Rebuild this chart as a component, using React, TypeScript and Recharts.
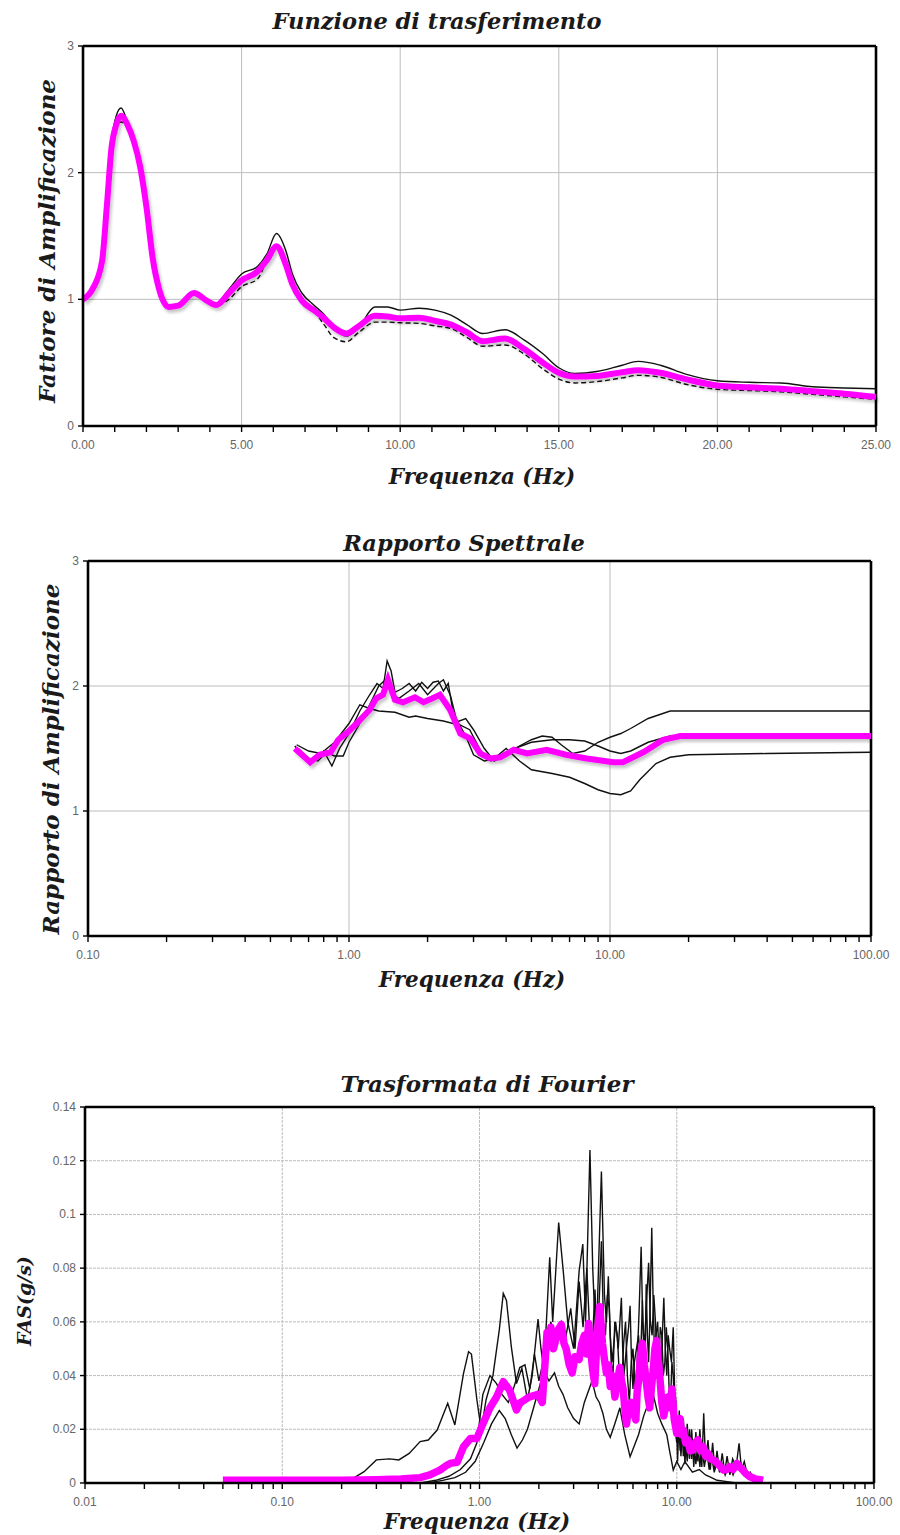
import React from 'react';
import { LineChart, Line, XAxis, YAxis, CartesianGrid, ReferenceLine } from 'recharts';

// --- Funzione di trasferimento (linear frequency axis) ---
const tfFreq = [0, 0.3, 0.6, 0.75, 0.9, 1.05, 1.2, 1.4, 1.6, 1.8, 2.0, 2.2, 2.4, 2.7, 3.0, 3.5, 3.9, 4.2, 4.6, 5.0, 5.5, 5.8, 6.1, 6.4, 6.6, 6.9, 7.3, 7.6, 7.9, 8.3, 8.7, 9.2, 9.6, 10, 10.6, 11.1, 11.6, 12.1, 12.6, 13.3, 13.9, 14.5, 15, 15.5, 16.2, 17, 17.5, 18.2, 19, 20, 21, 22, 23, 24, 25];
const tfUpper = [1.0, 1.08, 1.32, 1.75, 2.25, 2.45, 2.51, 2.4, 2.25, 2.05, 1.73, 1.32, 1.08, 0.95, 0.96, 1.06, 1.0, 0.97, 1.08, 1.2, 1.26, 1.36, 1.52, 1.38, 1.2, 1.05, 0.95, 0.88, 0.78, 0.71, 0.78, 0.94, 0.94, 0.915, 0.93, 0.915, 0.875, 0.8, 0.73, 0.76, 0.68, 0.57, 0.46, 0.415, 0.43, 0.48, 0.51, 0.48, 0.41, 0.357, 0.345, 0.34, 0.31, 0.3, 0.294];
const tfLower = [1.0, 1.08, 1.3, 1.72, 2.18, 2.36, 2.4, 2.36, 2.24, 2.04, 1.72, 1.31, 1.07, 0.93, 0.94, 1.04, 0.98, 0.95, 1.0, 1.1, 1.16, 1.3, 1.4, 1.25, 1.1, 0.97, 0.9, 0.8, 0.7, 0.665, 0.74, 0.82, 0.82, 0.815, 0.81, 0.79, 0.77, 0.7, 0.63, 0.64, 0.57, 0.45, 0.37, 0.34, 0.35, 0.38, 0.4, 0.385, 0.33, 0.29, 0.28, 0.27, 0.25, 0.23, 0.21];
const tfMean = [1.0, 1.08, 1.3, 1.73, 2.2, 2.38, 2.45, 2.38, 2.25, 2.05, 1.73, 1.32, 1.08, 0.94, 0.95, 1.05, 0.99, 0.955, 1.05, 1.15, 1.22, 1.31, 1.42, 1.27, 1.12, 0.99, 0.91, 0.85, 0.78, 0.73, 0.79, 0.87, 0.865, 0.85, 0.855, 0.83, 0.8, 0.74, 0.67, 0.69, 0.61, 0.5, 0.42, 0.39, 0.395, 0.425, 0.44, 0.42, 0.37, 0.32, 0.305, 0.295, 0.275, 0.255, 0.23];
const tfTicksX = [0, 1, 2, 3, 4, 5, 6, 7, 8, 9, 10, 11, 12, 13, 14, 15, 16, 17, 18, 19, 20, 21, 22, 23, 24, 25];
const tfGridX = [5, 10, 15, 20];
const ampTicksY = [0, 1, 2, 3];

// --- Rapporto Spettrale (log frequency axis) ---
const srA = [[0.62, 1.52], [0.66, 1.45], [0.7, 1.4], [0.75, 1.43], [0.8, 1.48], [0.86, 1.36], [0.92, 1.5], [1.0, 1.62], [1.1, 1.8], [1.2, 1.93], [1.28, 2.02], [1.35, 1.98], [1.4, 2.2], [1.45, 2.12], [1.5, 1.95], [1.6, 1.98], [1.7, 2.02], [1.8, 1.96], [1.9, 2.03], [2.0, 1.98], [2.1, 2.03], [2.2, 2.04], [2.3, 1.96], [2.4, 2.02], [2.5, 1.8], [2.6, 1.72], [2.8, 1.6], [3.0, 1.45], [3.3, 1.4], [3.6, 1.42], [4.0, 1.5], [4.5, 1.4], [5, 1.33], [6, 1.3], [7, 1.27], [8, 1.22], [9, 1.17], [10, 1.14], [11, 1.13], [12, 1.16], [13, 1.25], [15, 1.38], [17, 1.43], [20, 1.45], [40, 1.46], [100, 1.47]];
const srB = [[0.63, 1.53], [0.7, 1.48], [0.78, 1.46], [0.88, 1.55], [1.0, 1.7], [1.1, 1.85], [1.2, 1.82], [1.3, 1.8], [1.5, 1.79], [1.7, 1.75], [1.8, 1.76], [2.0, 1.74], [2.3, 1.72], [2.5, 1.7], [2.8, 1.74], [3.0, 1.65], [3.3, 1.5], [3.6, 1.4], [4.0, 1.45], [4.5, 1.52], [5, 1.57], [5.5, 1.6], [6, 1.59], [6.5, 1.53], [7.2, 1.46], [8, 1.48], [9, 1.55], [10, 1.59], [11, 1.62], [12, 1.66], [14, 1.74], [17, 1.8], [20, 1.8], [50, 1.8], [100, 1.8]];
const srC = [[0.64, 1.5], [0.7, 1.42], [0.76, 1.4], [0.82, 1.47], [0.88, 1.44], [0.95, 1.44], [1.0, 1.55], [1.1, 1.7], [1.2, 1.85], [1.3, 2.0], [1.38, 2.05], [1.45, 1.95], [1.55, 1.9], [1.7, 1.96], [1.85, 2.02], [2.0, 1.93], [2.2, 2.02], [2.3, 2.05], [2.45, 1.92], [2.6, 1.7], [2.9, 1.65], [3.2, 1.48], [3.5, 1.4], [3.9, 1.44], [4.3, 1.5], [5, 1.55], [6, 1.57], [7, 1.57], [8, 1.56], [9, 1.52], [10, 1.48], [11, 1.46], [12, 1.48], [14, 1.55], [17, 1.6], [20, 1.6], [50, 1.6], [100, 1.6]];
const srMean = [[0.62, 1.5], [0.66, 1.45], [0.71, 1.39], [0.77, 1.45], [0.85, 1.47], [0.91, 1.57], [1.0, 1.64], [1.07, 1.7], [1.2, 1.81], [1.27, 1.9], [1.35, 1.93], [1.41, 2.05], [1.5, 1.89], [1.61, 1.87], [1.79, 1.91], [1.93, 1.87], [2.08, 1.9], [2.23, 1.93], [2.44, 1.81], [2.67, 1.62], [2.92, 1.58], [3.18, 1.46], [3.48, 1.42], [3.8, 1.43], [4.28, 1.49], [4.81, 1.46], [5.72, 1.49], [6.79, 1.45], [8.14, 1.42], [10.3, 1.39], [11.2, 1.39], [13.4, 1.47], [16, 1.57], [18.6, 1.6], [30, 1.6], [60, 1.6], [100, 1.6]];
const srMajorX = [0.1, 1, 10, 100];

// --- Trasformata di Fourier (log frequency axis) ---
const fasA = [[0.05, 0], [0.2, 0], [0.22, 0.001], [0.26, 0.0042], [0.3, 0.0086], [0.35, 0.009], [0.39, 0.0086], [0.44, 0.011], [0.5, 0.0154], [0.55, 0.016], [0.61, 0.0197], [0.69, 0.0297], [0.75, 0.0216], [0.83, 0.0408], [0.88, 0.0489], [0.91, 0.048], [0.97, 0.031], [1.02, 0.0197], [1.08, 0.031], [1.17, 0.04], [1.26, 0.057], [1.32, 0.0706], [1.37, 0.068], [1.45, 0.0507], [1.54, 0.037], [1.64, 0.0427], [1.75, 0.031], [1.85, 0.04], [1.98, 0.061], [2.05, 0.05], [2.12, 0.042], [2.27, 0.084], [2.35, 0.06], [2.52, 0.097], [2.65, 0.08], [2.8, 0.06], [3.0, 0.05], [3.2, 0.079], [3.34, 0.089], [3.45, 0.06], [3.63, 0.124], [3.75, 0.08], [3.9, 0.05], [4.15, 0.116], [4.3, 0.07], [4.4, 0.06], [4.5, 0.077], [4.6, 0.055], [4.7, 0.045], [4.8, 0.052], [4.9, 0.06], [5.05, 0.05], [5.24, 0.069], [5.32, 0.05], [5.4, 0.04], [5.55, 0.05], [5.7, 0.058], [5.8, 0.066], [5.9, 0.045], [6.0, 0.035], [6.1, 0.045], [6.25, 0.05], [6.4, 0.055], [6.55, 0.045], [6.7, 0.068], [6.8, 0.05], [6.9, 0.04], [7.0, 0.074], [7.1, 0.055], [7.2, 0.045], [7.3, 0.06], [7.47, 0.095], [7.58, 0.07], [7.7, 0.05], [7.85, 0.055], [8.0, 0.06], [8.15, 0.045], [8.3, 0.035], [8.45, 0.055], [8.6, 0.069], [8.75, 0.05], [8.9, 0.04], [9.05, 0.055], [9.2, 0.05], [9.4, 0.045], [9.6, 0.058], [9.75, 0.035], [9.9, 0.03], [10.1, 0.008], [10.3, 0.027], [10.5, 0.01], [10.8, 0.024], [11.0, 0.007], [11.3, 0.022], [11.6, 0.009], [11.9, 0.02], [12.2, 0.006], [12.5, 0.019], [12.8, 0.008], [13.1, 0.02], [13.4, 0.006], [13.7, 0.026], [14.0, 0.008], [14.4, 0.016], [14.8, 0.005], [15.2, 0.015], [15.6, 0.005], [16, 0.012], [16.5, 0.004], [17, 0.011], [17.5, 0.004], [18, 0.01], [18.6, 0.003], [19.2, 0.009], [20, 0.006], [20.7, 0.0148], [21.3, 0.005], [22, 0.008], [22.8, 0.003], [23.6, 0.004], [24.5, 0.001], [25, 0.0005]];
const fasB = [[0.05, 0], [0.5, 0], [0.6, 0.001], [0.7, 0.0025], [0.8, 0.005], [0.9, 0.009], [0.97, 0.015], [1.04, 0.033], [1.13, 0.04], [1.22, 0.037], [1.3, 0.033], [1.4, 0.03], [1.5, 0.036], [1.6, 0.043], [1.7, 0.044], [1.8, 0.035], [1.9, 0.048], [2.0, 0.038], [2.1, 0.045], [2.2, 0.05], [2.3, 0.06], [2.45, 0.052], [2.6, 0.06], [2.75, 0.055], [2.9, 0.065], [3.05, 0.05], [3.2, 0.075], [3.35, 0.058], [3.5, 0.08], [3.6, 0.06], [3.7, 0.045], [3.78, 0.06], [3.85, 0.072], [3.92, 0.055], [4.0, 0.06], [4.08, 0.075], [4.15, 0.09], [4.25, 0.06], [4.35, 0.055], [4.45, 0.07], [4.55, 0.065], [4.65, 0.045], [4.75, 0.04], [4.85, 0.06], [5.0, 0.055], [5.1, 0.042], [5.25, 0.035], [5.38, 0.052], [5.5, 0.06], [5.62, 0.04], [5.75, 0.03], [5.88, 0.045], [6.0, 0.05], [6.15, 0.035], [6.3, 0.045], [6.45, 0.065], [6.6, 0.088], [6.72, 0.06], [6.85, 0.05], [7.0, 0.065], [7.2, 0.082], [7.35, 0.06], [7.5, 0.055], [7.65, 0.07], [7.8, 0.06], [7.95, 0.045], [8.1, 0.04], [8.25, 0.058], [8.4, 0.055], [8.55, 0.04], [8.7, 0.045], [8.85, 0.058], [9.0, 0.05], [9.15, 0.035], [9.3, 0.03], [9.45, 0.045], [9.6, 0.04], [9.8, 0.02], [10, 0.015], [10.2, 0.024], [10.4, 0.012], [10.6, 0.022], [10.8, 0.01], [11.0, 0.018], [11.3, 0.008], [11.6, 0.02], [11.9, 0.009], [12.2, 0.016], [12.5, 0.007], [12.8, 0.015], [13.1, 0.006], [13.4, 0.014], [13.8, 0.006], [14.2, 0.012], [14.6, 0.005], [15, 0.01], [15.5, 0.004], [16, 0.009], [16.5, 0.004], [17, 0.007], [17.6, 0.003], [18.5, 0.007], [19.3, 0.003], [20, 0.006], [21, 0.008], [22, 0.003], [23.5, 0.002], [25, 0.0005]];
const fasC = [[0.05, 0], [0.55, 0], [0.65, 0.001], [0.75, 0.002], [0.85, 0.004], [0.95, 0.008], [1.05, 0.015], [1.15, 0.022], [1.26, 0.027], [1.35, 0.024], [1.45, 0.018], [1.55, 0.013], [1.65, 0.016], [1.75, 0.02], [1.88, 0.028], [2.0, 0.035], [2.12, 0.042], [2.25, 0.038], [2.4, 0.041], [2.52, 0.036], [2.65, 0.033], [2.8, 0.028], [3.0, 0.024], [3.2, 0.022], [3.4, 0.03], [3.72, 0.038], [3.9, 0.032], [4.05, 0.03], [4.22, 0.026], [4.4, 0.02], [4.6, 0.017], [4.85, 0.022], [5.15, 0.028], [5.45, 0.018], [5.8, 0.0098], [6.1, 0.014], [6.4, 0.018], [6.8, 0.025], [7.2, 0.03], [7.6, 0.033], [8.0, 0.026], [8.4, 0.022], [8.9, 0.018], [9.2, 0.012], [9.6, 0.0048], [10, 0.008], [10.5, 0.005], [11, 0.008], [12, 0.004], [13, 0.005], [14, 0.003], [15, 0.002], [16, 0.001], [18, 0.0005], [20, 0]];
const fasMean = [[0.05, 0.001], [0.1, 0.001], [0.2, 0.001], [0.3, 0.0012], [0.4, 0.0015], [0.5, 0.002], [0.56, 0.003], [0.63, 0.0048], [0.68, 0.0065], [0.71, 0.0073], [0.77, 0.0077], [0.83, 0.0135], [0.9, 0.0166], [0.97, 0.0166], [1.04, 0.022], [1.13, 0.028], [1.22, 0.032], [1.32, 0.0377], [1.42, 0.0346], [1.54, 0.0272], [1.6, 0.0297], [1.7, 0.031], [1.78, 0.032], [1.98, 0.033], [2.08, 0.03], [2.15, 0.045], [2.2, 0.056], [2.26, 0.052], [2.3, 0.058], [2.37, 0.05], [2.43, 0.053], [2.5, 0.057], [2.6, 0.059], [2.68, 0.052], [2.75, 0.05], [2.85, 0.044], [2.95, 0.041], [3.05, 0.047], [3.2, 0.046], [3.3, 0.052], [3.4, 0.055], [3.5, 0.048], [3.57, 0.0594], [3.65, 0.05], [3.75, 0.042], [3.84, 0.037], [3.95, 0.055], [4.07, 0.0656], [4.14, 0.058], [4.2, 0.052], [4.3, 0.046], [4.4, 0.041], [4.5, 0.044], [4.6, 0.036], [4.72, 0.04], [4.86, 0.032], [5.0, 0.038], [5.15, 0.043], [5.25, 0.038], [5.35, 0.035], [5.45, 0.028], [5.56, 0.022], [5.7, 0.028], [5.9, 0.03], [6.05, 0.026], [6.2, 0.0235], [6.3, 0.034], [6.45, 0.04], [6.55, 0.048], [6.7, 0.052], [6.85, 0.044], [7.0, 0.038], [7.15, 0.032], [7.3, 0.028], [7.45, 0.036], [7.6, 0.042], [7.75, 0.05], [7.9, 0.053], [8.05, 0.046], [8.2, 0.04], [8.4, 0.03], [8.6, 0.025], [8.8, 0.03], [9.0, 0.032], [9.2, 0.028], [9.45, 0.035], [9.7, 0.024], [10, 0.0185], [10.2, 0.022], [10.4, 0.024], [10.6, 0.018], [10.8, 0.0197], [11.1, 0.015], [11.4, 0.016], [11.7, 0.012], [12.1, 0.0123], [12.4, 0.015], [12.8, 0.016], [13.2, 0.012], [13.6, 0.0135], [14.0, 0.01], [14.4, 0.011], [14.8, 0.009], [15.3, 0.0086], [15.8, 0.008], [16.2, 0.007], [16.7, 0.006], [17.3, 0.0048], [17.9, 0.005], [18.5, 0.006], [19.3, 0.005], [20.2, 0.0073], [20.8, 0.006], [21.5, 0.005], [22.4, 0.0035], [23.4, 0.0024], [25, 0.0015], [27.4, 0.001]];
const fasMajorX = [0.01, 0.1, 1, 10, 100];
const fasTicksY = [0, 0.02, 0.04, 0.06, 0.08, 0.1, 0.12, 0.14];

const toPts = (arr: number[][]) => arr.map(([f, v]) => ({ f, v }));

const logTicks = (majors: number[]) => {
  const out: number[] = [];
  majors.forEach((m, i) => {
    if (i === majors.length - 1) { out.push(m); return; }
    for (let k = 1; k < 10; k++) out.push(m * k);
  });
  return out;
};

const isDecade = (v: number) => Math.abs(Math.log10(v) - Math.round(Math.log10(v))) < 1e-9;

const MAGENTA = '#ff00ff';
const INK = '#111';
const GRID = '#bdbdbd';
const tickFont = '"Liberation Sans", Arial, sans-serif';

const makeXTick = (isMajor: (v: number) => boolean) => (props: any) => {
  const { x, y, payload } = props;
  const major = isMajor(payload.value);
  return (
    <g>
      <line x1={x} x2={x} y1={y} y2={y + 6} stroke="#000" strokeWidth={1.4} />
      {major && (
        <text x={x} y={y + 23} textAnchor="middle" fill="#666" fontSize={12} fontFamily={tickFont}>
          {Number(payload.value).toFixed(2)}
        </text>
      )}
    </g>
  );
};

const YTick = (props: any) => {
  const { x, y, payload } = props;
  return (
    <g>
      <line x1={x - 5} x2={x} y1={y} y2={y} stroke="#000" strokeWidth={1.4} />
      <text x={x - 9} y={y + 4} textAnchor="end" fill="#666" fontSize={12} fontFamily={tickFont}>
        {String(payload.value)}
      </text>
    </g>
  );
};

const Caption: React.FC<{ x: number; y: number; size?: number; rotate?: boolean; children: React.ReactNode }> = ({ x, y, size = 20, rotate, children }) => (
  <div
    style={{
      position: 'absolute',
      left: x,
      top: y,
      transform: `translate(-50%, -50%)${rotate ? ' rotate(-90deg)' : ''}`,
      fontFamily: '"DejaVu Serif", serif',
      fontWeight: 'bold',
      fontStyle: 'italic',
      fontSize: size,
      lineHeight: 1,
      whiteSpace: 'nowrap',
      color: '#1a1a1a',
    }}
  >
    {children}
  </div>
);

const axisLine = { stroke: '#000', strokeWidth: 2.6 };

const App: React.FC = () => {
  const tfData = tfFreq.map((f, i) => ({ f, upper: tfUpper[i], lower: tfLower[i], mean: tfMean[i] }));
  const srTicks = logTicks(srMajorX);
  const fasTicks = logTicks(fasMajorX);

  return (
    <div style={{ position: 'absolute', left: 0, top: 0, width: 900, height: 1535, background: '#fff' }}>
      <svg width={0} height={0} style={{ position: 'absolute' }}>
        <defs>
          <filter id="magShadow" x="-5%" y="-10%" width="110%" height="130%">
            <feDropShadow dx="2" dy="3" stdDeviation="1.5" floodColor="#000" floodOpacity="0.22" />
          </filter>
        </defs>
      </svg>

      {/* Chart 1 */}
      <div style={{ position: 'absolute', left: 0, top: 0 }}>
        <LineChart width={900} height={500} data={tfData} margin={{ top: 46, right: 24, bottom: 44, left: 43 }}>
          <CartesianGrid vertical={false} stroke={GRID} />
          {tfGridX.map((g) => (
            <ReferenceLine key={g} x={g} stroke={GRID} />
          ))}
          <XAxis dataKey="f" type="number" domain={[0, 25]} ticks={tfTicksX} interval={0} height={30}
            axisLine={axisLine} tickLine={false} tickSize={0} tickMargin={0}
            tick={makeXTick((v) => v % 5 === 0)} />
          <YAxis type="number" domain={[0, 3]} ticks={ampTicksY} interval={0} width={40}
            axisLine={axisLine} tickLine={false} tickSize={0} tickMargin={0} tick={YTick} />
          <ReferenceLine y={3} stroke="#000" strokeWidth={2.6} />
          <ReferenceLine x={25} stroke="#000" strokeWidth={2.6} />
          <Line type="monotone" dataKey="upper" stroke={INK} strokeWidth={1.4} dot={false} activeDot={false} isAnimationActive={false} />
          <Line type="monotone" dataKey="lower" stroke={INK} strokeWidth={1.4} strokeDasharray="5 3" dot={false} activeDot={false} isAnimationActive={false} />
          <Line type="monotone" dataKey="mean" stroke={MAGENTA} strokeWidth={6} filter="url(#magShadow)" dot={false} activeDot={false} isAnimationActive={false} />
        </LineChart>
      </div>
      <Caption x={437} y={21} size={22.5}>Funzione di trasferimento</Caption>
      <Caption x={46} y={241} size={23} rotate>Fattore di Amplificazione</Caption>
      <Caption x={482} y={477} size={21.5}>Frequenza (Hz)</Caption>

      {/* Chart 2 */}
      <div style={{ position: 'absolute', left: 0, top: 520 }}>
        <LineChart width={900} height={480} margin={{ top: 41, right: 29, bottom: 34, left: 48 }}>
          <CartesianGrid vertical={false} stroke={GRID} />
          {[1, 10].map((g) => (
            <ReferenceLine key={g} x={g} stroke={GRID} />
          ))}
          <XAxis dataKey="f" type="number" scale="log" domain={[0.1, 100]} allowDataOverflow ticks={srTicks} interval={0} height={30}
            axisLine={axisLine} tickLine={false} tickSize={0} tickMargin={0} tick={makeXTick(isDecade)} />
          <YAxis type="number" domain={[0, 3]} ticks={ampTicksY} interval={0} width={40}
            axisLine={axisLine} tickLine={false} tickSize={0} tickMargin={0} tick={YTick} />
          <ReferenceLine y={3} stroke="#000" strokeWidth={2.6} />
          <ReferenceLine x={100} stroke="#000" strokeWidth={2.6} />
          <Line data={toPts(srA)} dataKey="v" stroke={INK} strokeWidth={1.4} dot={false} activeDot={false} isAnimationActive={false} />
          <Line data={toPts(srB)} dataKey="v" stroke={INK} strokeWidth={1.4} dot={false} activeDot={false} isAnimationActive={false} />
          <Line data={toPts(srC)} dataKey="v" stroke={INK} strokeWidth={1.4} dot={false} activeDot={false} isAnimationActive={false} />
          <Line data={toPts(srMean)} dataKey="v" stroke={MAGENTA} strokeWidth={6} filter="url(#magShadow)" dot={false} activeDot={false} isAnimationActive={false} />
        </LineChart>
      </div>
      <Caption x={464} y={543} size={22.5}>Rapporto Spettrale</Caption>
      <Caption x={50} y={759} size={23} rotate>Rapporto di Amplificazione</Caption>
      <Caption x={472} y={980} size={21.5}>Frequenza (Hz)</Caption>

      {/* Chart 3 */}
      <div style={{ position: 'absolute', left: 0, top: 1060 }}>
        <LineChart width={900} height={475} margin={{ top: 47, right: 26, bottom: 22, left: 45 }}>
          <CartesianGrid vertical={false} stroke={GRID} strokeDasharray="3 1" />
          {[0.1, 1, 10].map((g) => (
            <ReferenceLine key={g} x={g} stroke={GRID} strokeDasharray="3 1" />
          ))}
          <XAxis dataKey="f" type="number" scale="log" domain={[0.01, 100]} allowDataOverflow ticks={fasTicks} interval={0} height={30}
            axisLine={axisLine} tickLine={false} tickSize={0} tickMargin={0} tick={makeXTick(isDecade)} />
          <YAxis type="number" domain={[0, 0.14]} ticks={fasTicksY} interval={0} width={40}
            axisLine={axisLine} tickLine={false} tickSize={0} tickMargin={0} tick={YTick} />
          <ReferenceLine y={0.14} stroke="#000" strokeWidth={2.6} />
          <ReferenceLine x={100} stroke="#000" strokeWidth={2.6} />
          <Line data={toPts(fasA)} dataKey="v" stroke={INK} strokeWidth={1.4} dot={false} activeDot={false} isAnimationActive={false} />
          <Line data={toPts(fasB)} dataKey="v" stroke={INK} strokeWidth={1.4} dot={false} activeDot={false} isAnimationActive={false} />
          <Line data={toPts(fasC)} dataKey="v" stroke={INK} strokeWidth={1.4} dot={false} activeDot={false} isAnimationActive={false} />
          <Line data={toPts(fasMean)} dataKey="v" stroke={MAGENTA} strokeWidth={7.5} strokeLinejoin="round" dot={false} activeDot={false} isAnimationActive={false} />
        </LineChart>
      </div>
      <Caption x={487} y={1083} size={23}>Trasformata di Fourier</Caption>
      <Caption x={24} y={1301} size={19} rotate>FAS(g/s)</Caption>
      <Caption x={477} y={1522} size={21.5}>Frequenza (Hz)</Caption>
    </div>
  );
};

export default App;
